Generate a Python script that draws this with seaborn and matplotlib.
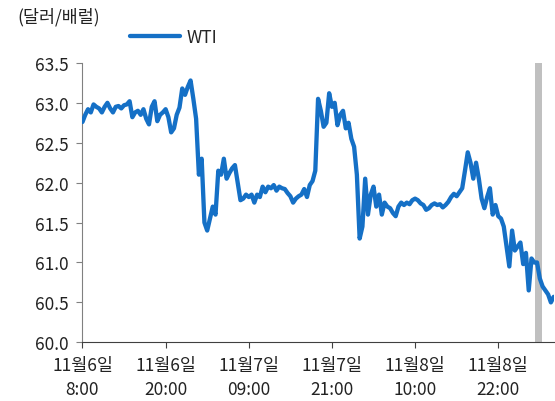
import matplotlib
matplotlib.use('Agg')
import matplotlib.pyplot as plt
import numpy as np
import pandas as pd
import seaborn as sns

# WTI intraday price (USD/bbl)
wti = [
    62.76, 62.85, 62.92, 62.88, 62.98, 62.95, 62.93, 62.88, 62.95, 63.00,
    62.93, 62.88, 62.95, 62.96, 62.93, 62.97, 62.98, 63.02, 62.82, 62.88,
    62.90, 62.85, 62.92, 62.80, 62.73, 62.95, 63.02, 62.77, 62.85, 62.88,
    62.92, 62.82, 62.63, 62.68, 62.85, 62.94, 63.18, 63.10, 63.20, 63.28,
    63.05, 62.80, 62.10, 62.30, 61.50, 61.40, 61.55, 61.70, 61.60, 62.15,
    62.10, 62.30, 62.05, 62.12, 62.18, 62.22, 62.00, 61.78, 61.80, 61.85,
    61.82, 61.85, 61.75, 61.85, 61.82, 61.95, 61.88, 61.95, 61.93, 61.97,
    61.90, 61.95, 61.93, 61.92, 61.87, 61.83, 61.75, 61.80, 61.83, 61.85,
    61.92, 61.82, 61.97, 62.02, 62.15, 63.05, 62.90, 62.70, 62.75, 63.12,
    62.95, 63.00, 62.72, 62.85, 62.90, 62.68, 62.75, 62.55, 62.45, 62.10,
    61.30, 61.45, 62.05, 61.60, 61.85, 61.95, 61.70, 61.85, 61.60, 61.75,
    61.70, 61.68, 61.62, 61.58, 61.70, 61.75, 61.72, 61.75, 61.73, 61.78,
    61.80, 61.78, 61.74, 61.72, 61.66, 61.68, 61.72, 61.74, 61.72, 61.73,
    61.69, 61.72, 61.76, 61.82, 61.86, 61.83, 61.88, 61.93, 62.15, 62.38,
    62.25, 62.05, 62.25, 62.05, 61.80, 61.68, 61.82, 61.93, 61.60, 61.72,
    61.58, 61.55, 61.45, 61.20, 60.95, 61.40, 61.15, 61.20, 61.25, 60.98,
    61.12, 60.65, 61.05, 61.00, 61.00, 60.80, 60.70, 60.65, 60.60, 60.50,
    60.57,
]
tick_labels = ['11월6일\n8:00', '11월6일\n20:00', '11월7일\n09:00',
               '11월7일\n21:00', '11월8일\n10:00', '11월8일\n22:00']
tick_step = 30
highlight = (163.4, 165.9)

sns.set_style('white')
plt.rcParams['font.family'] = ['Noto Sans CJK KR', 'DejaVu Sans']

df = pd.DataFrame({'t': np.arange(len(wti)), 'WTI': wti})

fig = plt.figure(figsize=(5.55, 4.02), dpi=100)
ax = fig.add_axes([0.1486, 0.146, 0.85, 0.695])

ax.axvspan(*highlight, color='#c0c0c0', lw=0, zorder=0)
sns.lineplot(data=df, x='t', y='WTI', ax=ax, color='#1570c6', lw=3.1,
             label='WTI', zorder=3)

ax.set_xlim(0, 170.2)
ax.set_ylim(60.0, 63.5)
ax.set_yticks(np.arange(60.0, 63.51, 0.5))
ax.set_yticklabels(['%.1f' % v for v in np.arange(60.0, 63.51, 0.5)])
ax.set_xticks(np.arange(len(tick_labels)) * tick_step)
ax.set_xticklabels(tick_labels, linespacing=1.45)
ax.set_xlabel('')
ax.set_ylabel('')

for side in ['top', 'right']:
    ax.spines[side].set_visible(False)
ax.spines['left'].set_color('#808080')
ax.spines['bottom'].set_color('#404040')
ax.tick_params(axis='both', labelsize=12.5, colors='#222222', length=4,
               direction='out', left=True, bottom=True)
ax.tick_params(axis='y', color='#808080', pad=6)
ax.tick_params(axis='x', color='#404040', pad=6)

ax.legend(loc='center left', bbox_to_anchor=(0.1, 1.092), frameon=False,
          fontsize=12.5, handlelength=2.9, handletextpad=0.4,
          borderaxespad=0, borderpad=0)

fig.text(0.032, 0.957, '(달러/배럴)', fontsize=12.5, ha='left', va='center',
         color='#222222')

fig.savefig('out.png', dpi=100)
